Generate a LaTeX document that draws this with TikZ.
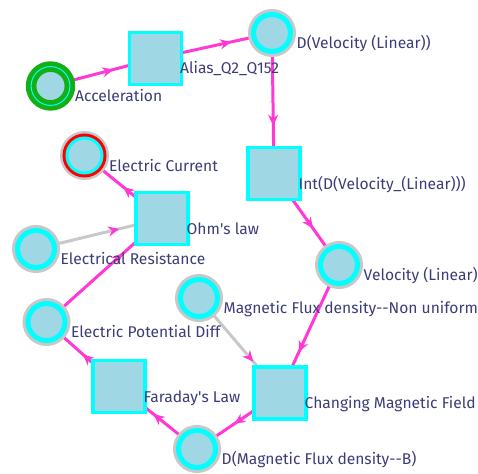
\documentclass[tikz,border=0pt]{standalone}
\usepackage{fontspec}
\setmainfont{Fira Sans}
\usetikzlibrary{arrows.meta,decorations.markings,backgrounds}

\begin{document}
\begin{tikzpicture}[x=1pt,y=-1pt,
  quant/.style={circle,minimum size=37pt,inner sep=0pt,fill=fillBlue,draw=ringCyan,line width=5pt,
    preaction={draw=ringGray,line width=11pt}},
  given/.style={circle,minimum size=38.8pt,inner sep=0pt,fill=fillBlue,draw=ringGreen,
    double=ringCyan,double distance=1pt,line width=4.8pt},
  goal/.style={circle,minimum size=35pt,inner sep=0pt,fill=fillBlue,draw=ringCyan,line width=3pt,
    preaction={draw=ringGray,line width=14pt},preaction={draw=ringRed,line width=9pt}},
  rel/.style={rectangle,minimum size=52pt,inner sep=0pt,fill=fillBlue,draw=ringCyan,line width=3.5pt},
  lbl/.style={anchor=base west,inner sep=0pt,xshift=24.5pt,yshift=-15.5pt,text=txtNavy,
    font=\fontsize{15.6}{18}\selectfont},
  flow/.style={draw=edgePink,line width=3pt,postaction={decorate},
    decoration={markings,mark=at position #1 with {\arrow[edgePink]{Stealth[length=11pt,width=10pt]}}}},
  inflow/.style={flow=#1,draw=edgeGray}]
\definecolor{fillBlue}{RGB}{160,215,228}
\definecolor{ringCyan}{RGB}{0,255,255}
\definecolor{ringGray}{RGB}{200,200,200}
\definecolor{ringGreen}{RGB}{20,175,20}
\definecolor{ringRed}{RGB}{255,0,0}
\definecolor{edgePink}{RGB}{255,56,214}
\definecolor{edgeGray}{RGB}{200,200,200}
\definecolor{txtNavy}{RGB}{60,60,120}
\useasboundingbox (0,0) rectangle (478,473);

% quantities and relations
\node[given] (acc) at ( 50.5, 86.0) {};
\node[rel] (alias) at (155.5, 58.5) {};
\node[quant] (dvel) at (272.0, 33.0) {};
\node[rel] (intd) at (274.0,173.5) {};
\node[quant] (vel) at (339.0,265.0) {};
\node[quant] (mfnu) at (199.0,298.0) {};
\node[rel] (cmf) at (280.0,393.0) {};
\node[quant] (dmfb) at (197.0,449.0) {};
\node[rel] (far) at (119.0,386.5) {};
\node[quant] (epd) at ( 46.5,322.0) {};
\node[quant] (eres) at ( 36.0,249.0) {};
\node[rel] (ohm) at (162.0,218.5) {};
\node[goal] (ecur) at ( 84.5,155.5) {};

% names
\node[lbl] (accl) at (acc.center) {Acceleration};
\node[lbl] (aliasl) at (alias.center) {Alias\_Q2\_Q152};
\node[lbl] (dvell) at (dvel.center) {D(Velocity (Linear))};
\node[lbl] (intdl) at (intd.center) {Int(D(Velocity\_(Linear)))};
\node[lbl] (vell) at (vel.center) {Velocity (Linear)};
\node[lbl] (mfnul) at (mfnu.center) {Magnetic Flux density-{}-Non uniform};
\node[lbl] (cmfl) at (cmf.center) {Changing Magnetic Field};
\node[lbl] (dmfbl) at (dmfb.center) {D(Magnetic Flux density-{}-B)};
\node[lbl] (farl) at (far.center) {Faraday\textquotesingle s Law};
\node[lbl] (epdl) at (epd.center) {Electric Potential Diff};
\node[lbl] (eresl) at (eres.center) {Electrical Resistance};
\node[lbl] (ohml) at (ohm.center) {Ohm\textquotesingle s law};
\node[lbl] (ecurl) at (ecur.center) {Electric Current};

% connectors
\begin{scope}[on background layer]
\draw[flow=0.6] (acc.center) -- (alias.center);
\draw[flow=0.65] (alias.center) -- (dvel.center);
\draw[flow=0.66] (dvel.center) -- (intd.center);
\draw[flow=0.6] (intd.center) -- (vel.center);
\draw[flow=0.68] (vel.center) -- (cmf.center);
\draw[inflow=0.67] (mfnu.center) -- (cmf.center);
\draw[flow=0.55] (cmf.center) -- (dmfb.center);
\draw[flow=0.56] (dmfb.center) -- (far.center);
\draw[flow=0.5] (far.center) -- (epd.center);
\draw[flow=0.66] (epd.center) -- (ohm.center);
\draw[inflow=0.66] (eres.center) -- (ohm.center);
\draw[flow=0.5] (ohm.center) -- (ecur.center);
\end{scope}
\end{tikzpicture}
\end{document}
